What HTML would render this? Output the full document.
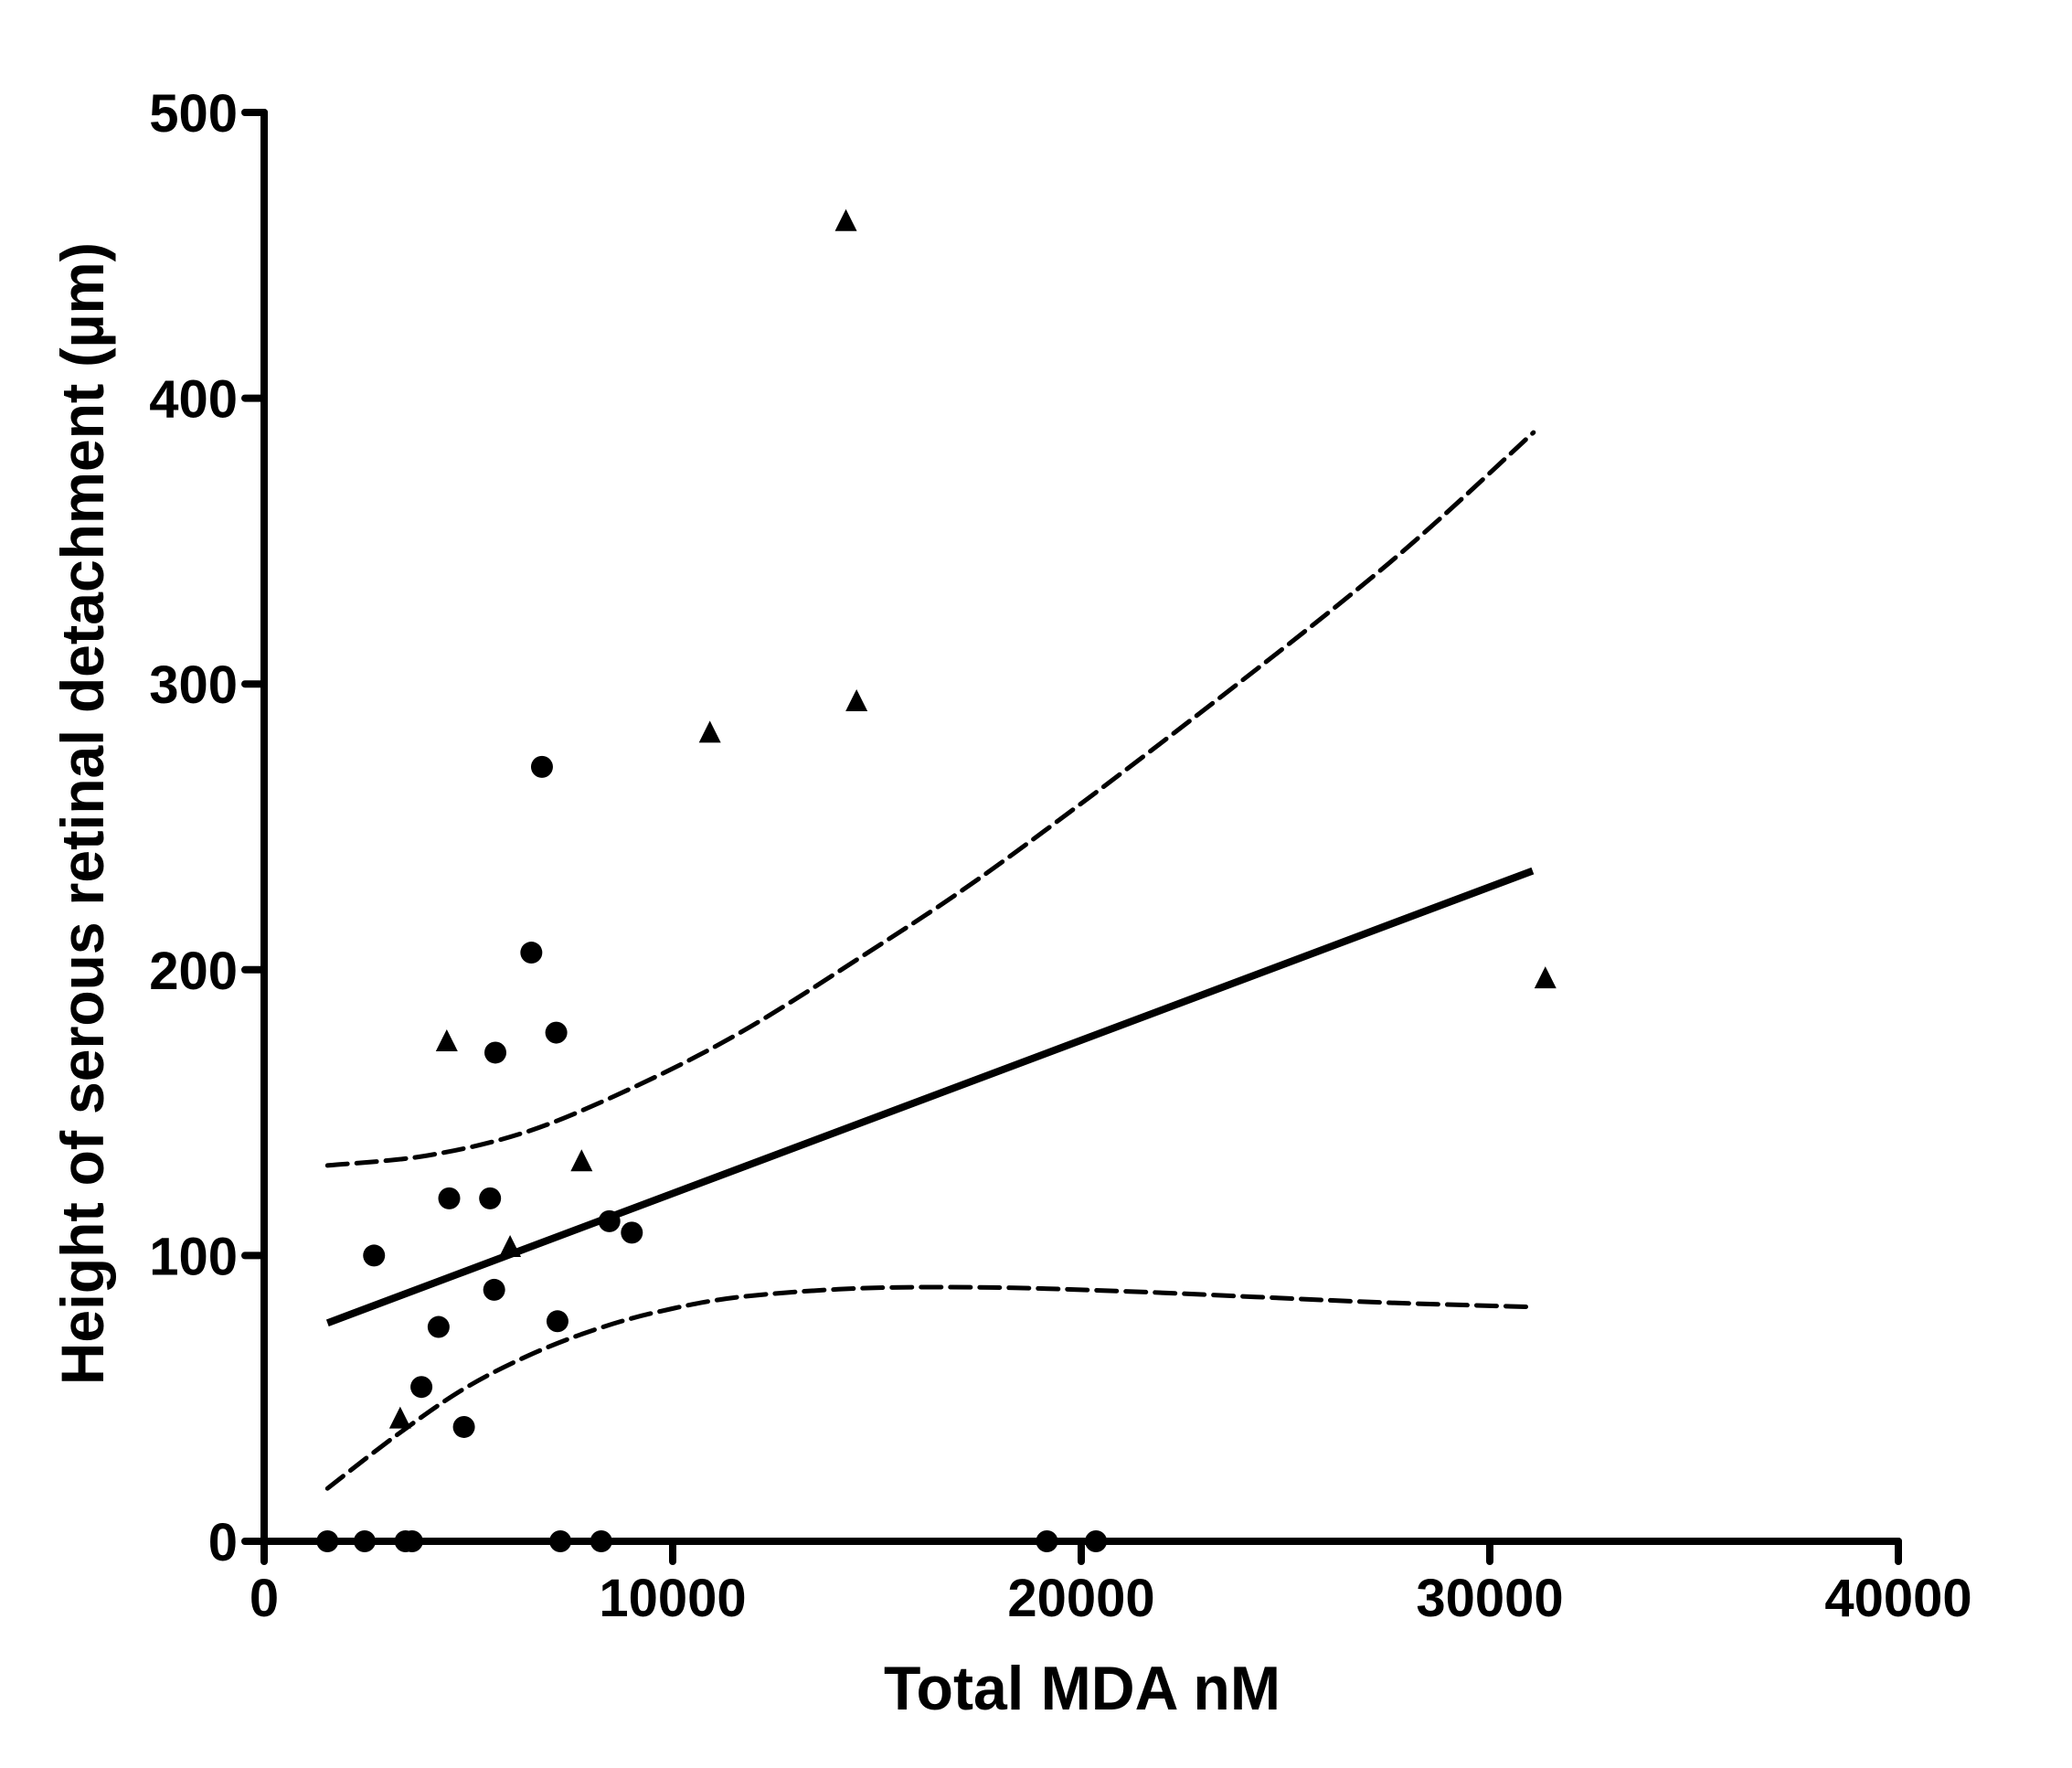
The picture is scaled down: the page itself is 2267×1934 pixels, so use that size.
<!DOCTYPE html>
<html><head><meta charset="utf-8"><style>
html,body{margin:0;padding:0;background:#fff;}
svg{display:block;}
text{font-family:"Liberation Sans",Arial,sans-serif;font-weight:bold;fill:#000;}
</style></head><body>
<svg id="chart" width="2267" height="1934" viewBox="0 0 2267 1934" xmlns="http://www.w3.org/2000/svg">
<g id="axes"></g>
<g id="bands"></g>
<g id="fit"></g>
<g id="marks"></g>
<text x="1184" y="1870" font-size="68" text-anchor="middle" textLength="434" lengthAdjust="spacingAndGlyphs">Total MDA nM</text>
<text transform="translate(113,890) rotate(-90)" x="0" y="0" font-size="66" text-anchor="middle" textLength="1250" lengthAdjust="spacingAndGlyphs">Height of serous retinal detachment (µm)</text>
</svg>
<script>
const xTicks = [0, 10000, 20000, 30000, 40000];
const yTicks = [0, 100, 200, 300, 400, 500];
const circleX = [1550, 2460, 3460, 3620, 7250, 8250, 19160, 20360, 2690, 6800, 6540, 7150, 5660, 4530, 5530, 5630, 8450, 9000, 4270, 7180, 3850, 4890];
const circleY = [0, 0, 0, 0, 0, 0, 0, 0, 100, 271, 206, 178, 171, 120, 120, 88, 112, 108, 75, 77, 54, 40];
const triX = [3330, 4470, 6020, 7770, 10910, 14240, 14500, 31360];
const triY = [43, 175, 103, 133, 283, 462, 294, 197];
const fitX = [1550, 31050];
const fitY = [76.4, 234.6];
const upperX = [1550, 4000, 6470, 9060, 11650, 14560, 17800, 22650, 27510, 31070];
const upperY = [131.5, 135, 143.5, 159, 178, 204, 235, 287, 342, 388];
const lowerX = [1550, 3230, 4850, 6470, 8080, 9700, 11650, 14560, 17800, 21040, 24270, 27510, 31070];
const lowerY = [18.5, 37, 53, 65, 74, 80.5, 85.5, 88.5, 88.8, 87.5, 85.5, 83.5, 82];

const X0 = 289, X1 = 2077, Y0 = 1686, Y1 = 123;
const sx = v => X0 + (v - 0) / 40000 * (X1 - X0);
const sy = v => Y0 - v / 500 * (Y0 - Y1);
const NS = "http://www.w3.org/2000/svg";
function mk(tag, parent, attrs) {
  const e = document.createElementNS(NS, tag);
  for (const k in attrs) e.setAttribute(k, attrs[k]);
  parent.appendChild(e);
  return e;
}
const axes = document.getElementById('axes');
let el = mk('line', axes, {x1: X0, y1: Y0, x2: X0, y2: Y1, stroke: '#000', 'stroke-width': 8, 'stroke-linecap': 'round'});


el = mk('line', axes, {x1: X0, y1: Y0, x2: X1, y2: Y0, stroke: '#000', 'stroke-width': 8, 'stroke-linecap': 'round'});


yTicks.forEach(t => {
  const y = sy(t);
  const tk = mk('line', axes, {x1: X0 - 21, y1: y, x2: X0, y2: y, stroke: '#000', 'stroke-width': 8, 'stroke-linecap': 'round'});
  
  
  const tx = mk('text', axes, {x: 260, y: y + 21, 'font-size': 58, 'text-anchor': 'end'});
  tx.textContent = t;
  
  
});
xTicks.forEach(t => {
  const x = sx(t);
  const tk = mk('line', axes, {x1: x, y1: Y0, x2: x, y2: Y0 + 22, stroke: '#000', 'stroke-width': 8, 'stroke-linecap': 'round'});
  
  
  const tx = mk('text', axes, {x: x, y: 1768, 'font-size': 58, 'text-anchor': 'middle'});
  tx.textContent = t;
  
  
});
const bands = document.getElementById('bands');
function curve(xs, ys) {
  let d = '';
  xs.forEach((v, i) => { d += (i ? ' L' : 'M') + sx(v).toFixed(1) + ' ' + sy(ys[i]).toFixed(1); });
  return d;
}
function smooth(xs, ys) {
  const p = xs.map((v, i) => [sx(v), sy(ys[i])]);
  let d = 'M' + p[0][0].toFixed(1) + ' ' + p[0][1].toFixed(1);
  for (let i = 0; i < p.length - 1; i++) {
    const p0 = p[Math.max(0, i - 1)], p1 = p[i], p2 = p[i + 1], p3 = p[Math.min(p.length - 1, i + 2)];
    const c1 = [p1[0] + (p2[0] - p0[0]) / 6, p1[1] + (p2[1] - p0[1]) / 6];
    const c2 = [p2[0] - (p3[0] - p1[0]) / 6, p2[1] - (p3[1] - p1[1]) / 6];
    d += ` C${c1[0].toFixed(1)} ${c1[1].toFixed(1)} ${c2[0].toFixed(1)} ${c2[1].toFixed(1)} ${p2[0].toFixed(1)} ${p2[1].toFixed(1)}`;
  }
  return d;
}
el = mk('path', bands, {d: smooth(upperX, upperY), fill: 'none', stroke: '#000', 'stroke-width': 5, 'stroke-dasharray': '22 10', 'stroke-linecap': 'round'});


el = mk('path', bands, {d: smooth(lowerX, lowerY), fill: 'none', stroke: '#000', 'stroke-width': 5, 'stroke-dasharray': '22 10', 'stroke-linecap': 'round'});


const fit = document.getElementById('fit');
el = mk('path', fit, {d: curve(fitX, fitY), fill: 'none', stroke: '#000', 'stroke-width': 8});


const marks = document.getElementById('marks');
circleX.forEach((v, i) => {
  const c = mk('circle', marks, {cx: sx(v), cy: sy(circleY[i]), r: 12, fill: '#000'});
  
  
});
triX.forEach((v, i) => {
  const x = sx(v), y = sy(triY[i]);
  const p = mk('polygon', marks, {points: `${x},${y-13} ${x-12},${y+11} ${x+12},${y+11}`, fill: '#000'});
  
  
});
</script>
</body></html>
